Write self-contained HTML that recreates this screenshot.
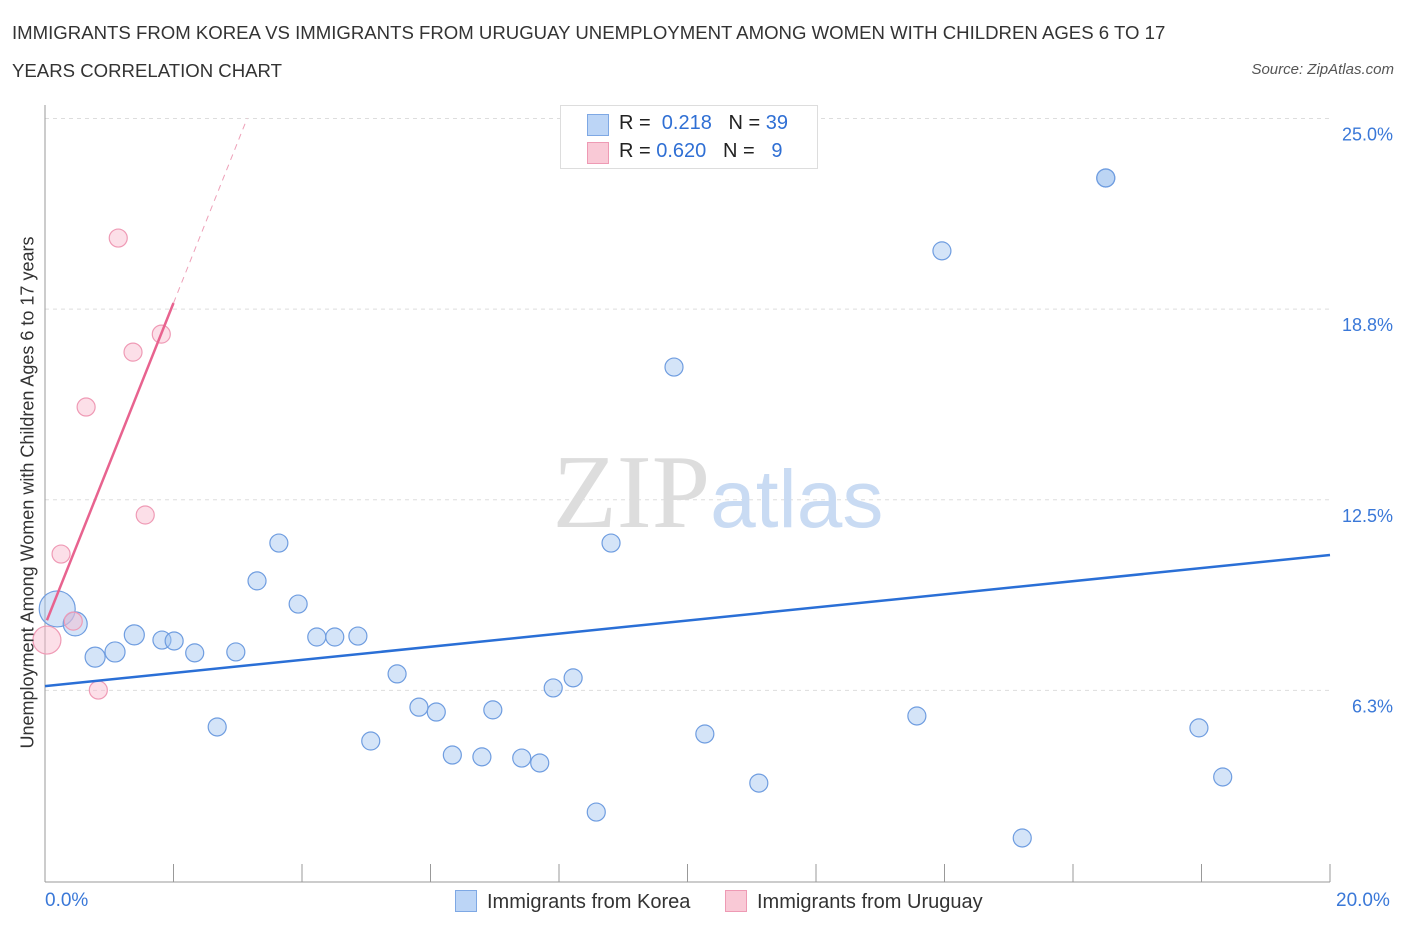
<!DOCTYPE html>
<html><head><meta charset="utf-8"><style>
body{margin:0;background:#fff;font-family:"Liberation Sans",sans-serif;}
#wrap{position:relative;width:1406px;height:930px;}
.t{position:absolute;color:#333;font-size:18.6px;}
</style></head><body>
<div id="wrap">
<div class="t" style="left:12px;top:22px;">IMMIGRANTS FROM KOREA VS IMMIGRANTS FROM URUGUAY UNEMPLOYMENT AMONG WOMEN WITH CHILDREN AGES 6 TO 17</div>
<div class="t" style="left:12px;top:60px;">YEARS CORRELATION CHART</div>
<div class="t" style="right:12px;top:61px;font-size:15px;font-style:italic;color:#555;">Source: ZipAtlas.com</div>
<svg id="svg" width="1406" height="930" style="position:absolute;left:0;top:0"></svg>
</div>
<script>
const koreaX=[0.19,0.47,0.78,1.09,1.39,1.82,2.01,2.33,2.68,2.97,3.30,3.64,3.94,4.23,4.51,4.87,5.07,5.48,5.82,6.09,6.34,6.80,6.97,7.42,7.70,7.91,8.22,8.58,8.81,9.79,10.27,11.11,13.57,13.96,15.21,16.51,16.51,17.96,18.33];
const koreaY=[8.92,8.43,7.34,7.51,8.07,7.90,7.87,7.48,5.05,7.51,9.84,11.08,9.08,8.00,8.00,8.03,4.59,6.79,5.70,5.54,4.13,4.07,5.61,4.03,3.87,6.33,6.66,2.26,11.08,16.85,4.82,3.21,5.41,20.66,1.41,23.05,23.05,5.02,3.41];
const koreaR=[18,12,10,10,10,9,9,9,9,9,9,9,9,9,9,9,9,9,9,9,9,9,9,9,9,9,9,9,9,9,9,9,9,9,9,9,9,9,9];
const uruX=[0.03,0.25,0.44,0.64,0.83,1.14,1.37,1.56,1.81];
const uruY=[7.90,10.72,8.52,15.54,6.26,21.08,17.34,12.0,17.93];
const uruR=[14,9,9,9,9,9,9,9,9];
const yTicks=[6.25,12.5,18.75,25];
const yTickLabels=["6.3%","12.5%","18.8%","25.0%"];
const koreaTrend=[6.39,10.69];
const uruTrend=[8.39,5.28];
const NS="http://www.w3.org/2000/svg";
const svg=document.getElementById('svg');
const X=v=>45+v*64.25, Y=v=>881-v*30.5;
function el(tag,a,name,parent){const e=document.createElementNS(NS,tag);for(const k in a)e.setAttribute(k,a[k]);


(parent||svg).appendChild(e);return e;}
yTicks.forEach((t,i)=>{
 el('line',{x1:45,x2:1330,y1:Y(t),y2:Y(t),stroke:'#ddd','stroke-dasharray':'4,4'},'gridline');
 const tx=el('text',{x:1393,y:Y(t)+22,'text-anchor':'end',fill:'#3a78d8','font-size':18,'font-family':'Liberation Sans'},'y-tick-label');tx.textContent=yTickLabels[i];
});
el('line',{x1:45,x2:45,y1:105,y2:882,stroke:'#999'},'y-axis');
el('line',{x1:45,x2:1330,y1:882,y2:882,stroke:'#999'},'x-axis');
for(let i=0;i<=10;i++)el('line',{x1:X(i*2),x2:X(i*2),y1:864,y2:882,stroke:'#999'},'x-tick');
const wm=el('text',{x:718,y:527,'text-anchor':'middle','font-size':105,'font-family':'Liberation Serif',fill:'#ddd'},'watermark');
wm.innerHTML='ZIP<tspan fill="#c9dbf3" font-family="Liberation Sans" font-size="82">atlas</tspan>';
koreaX.forEach((x,i)=>el('circle',{cx:X(x),cy:Y(koreaY[i]),r:koreaR[i],fill:'rgba(160,196,240,0.45)',stroke:'#6f9de0','stroke-width':1.2},'korea-point'));
uruX.forEach((x,i)=>el('circle',{cx:X(x),cy:Y(uruY[i]),r:uruR[i],fill:'rgba(248,185,205,0.45)',stroke:'#ef9ab5','stroke-width':1.2},'uruguay-point'));
el('line',{x1:X(0),y1:Y(koreaTrend[0]),x2:X(20),y2:Y(koreaTrend[1]),stroke:'#2a6fd6','stroke-width':2.5},'korea-trendline');
const ux1=0.03,ux2=2.0,ux3=(25-uruTrend[0])/uruTrend[1];
el('line',{x1:X(ux1),y1:Y(uruTrend[0]+uruTrend[1]*ux1),x2:X(ux2),y2:Y(uruTrend[0]+uruTrend[1]*ux2),stroke:'#e8638f','stroke-width':2.5},'uruguay-trendline');
el('line',{x1:X(ux2),y1:Y(uruTrend[0]+uruTrend[1]*ux2),x2:X(ux3),y2:Y(25),stroke:'#eea0b8','stroke-width':1,'stroke-dasharray':'6,5'},'uruguay-trendline-extension');
</script>
<div style="position:absolute;left:560px;top:105px;width:256px;height:62px;border:1px solid #ddd;background:#fff;font-size:20px;color:#222;">
 <div style="position:absolute;left:26px;top:8px;width:20px;height:20px;background:#bcd5f6;border:1px solid #7ea8e4"></div>
 <div style="position:absolute;left:58px;top:6px;">R = &nbsp;<span style="color:#2f6fd4">0.218</span>&nbsp;&nbsp; N = <span style="color:#2f6fd4">39</span></div>
 <div style="position:absolute;left:26px;top:36px;width:20px;height:20px;background:#f9c9d6;border:1px solid #ee9ab4"></div>
 <div style="position:absolute;left:58px;top:34px;">R = <span style="color:#2f6fd4">0.620</span>&nbsp;&nbsp; N = &nbsp;&nbsp;<span style="color:#2f6fd4">9</span></div>
</div>
<div style="position:absolute;left:-272px;top:482px;width:600px;transform:rotate(-90deg);text-align:center;font-size:18px;color:#333;white-space:nowrap;">Unemployment Among Women with Children Ages 6 to 17 years</div>
<div style="position:absolute;left:45px;top:890px;font-size:19px;color:#3a78d8;">0.0%</div>
<div style="position:absolute;left:1336px;top:890px;font-size:19px;color:#3a78d8;">20.0%</div>
<div style="position:absolute;left:455px;top:890px;font-size:20px;color:#333;"><span style="display:inline-block;width:20px;height:20px;background:#bcd5f6;border:1px solid #7ea8e4;vertical-align:-4px;margin-right:10px"></span>Immigrants from Korea</div>
<div style="position:absolute;left:725px;top:890px;font-size:20px;color:#333;"><span style="display:inline-block;width:20px;height:20px;background:#f9c9d6;border:1px solid #ee9ab4;vertical-align:-4px;margin-right:10px"></span>Immigrants from Uruguay</div>
</body></html>
